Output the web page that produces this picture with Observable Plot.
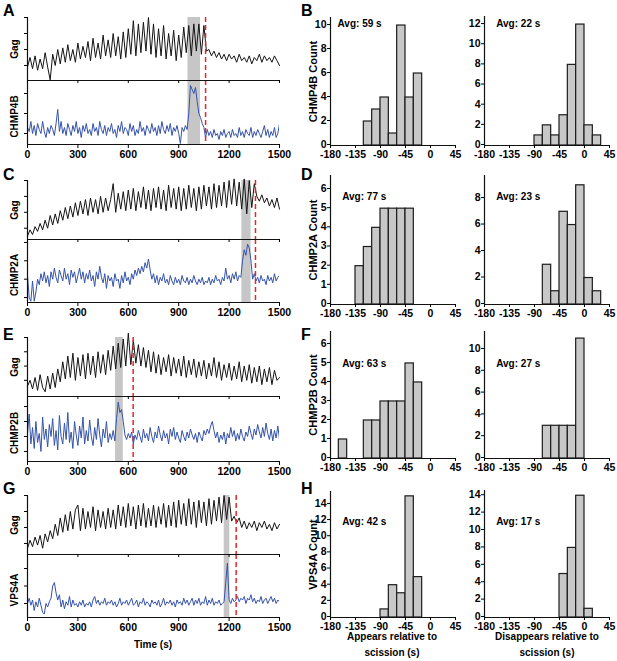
<!DOCTYPE html>
<html><head><meta charset="utf-8">
<script src="https://cdn.jsdelivr.net/npm/d3@7"></script>
<script src="https://cdn.jsdelivr.net/npm/@observablehq/plot@0.6"></script>
<style>
body{margin:0;background:#fff;}
#fig{position:relative;width:617px;height:661px;font-family:"Liberation Sans",Arial,sans-serif;font-weight:bold;color:#000;overflow:hidden;}
#fig svg{position:absolute;background:transparent;overflow:visible;}
.letter{position:absolute;font-size:16px;font-weight:bold;line-height:1;}
.xl{position:absolute;font-size:10px;font-weight:bold;line-height:16px;text-align:center;}
</style></head><body><div id="fig"></div>
<script>
// ---------- data ----------
const gagStep = 15;     // s between Gag samples
const escStep = 10;     // s between ESCRT samples
const proteins = ["CHMP4B","CHMP2A","CHMP2B","VPS4A"];
const panelLetters = ["A","C","E","G"];
const histLetters = ["B","D","F","H"];
const xTicks = [0,300,600,900,1200,1500];
const histXTicks = [-180,-135,-90,-45,0,45];
const binWidth = 15;

const gagA = [0.9,1.5,0.8,1.6,0.7,1.4,0.8,1.8,0.9,0.1,
 1.7,1.0,2.0,1.1,2.1,1.2,2.3,1.3,2.0,1.2,
 2.4,1.4,2.2,1.5,2.5,1.3,2.7,1.5,2.4,1.4,
 2.9,1.6,2.6,1.5,3.0,1.6,2.8,1.4,3.1,1.5,
 3.3,1.7,3.8,1.6,3.6,1.8,3.7,1.9,4.0,1.7,
 3.6,1.5,3.3,1.6,3.5,1.4,3.0,1.6,3.2,1.3,
 2.9,1.5,3.4,1.8,3.5,1.6,3.6,1.9,3.6,1.7,
 3.5,1.9,2.0,1.6,1.9,1.5,1.8,1.4,1.7,1.3,
 1.7,1.4,1.6,1.2,1.7,1.3,1.5,1.2,1.6,1.1,
 1.5,1.3,1.7,1.2,1.6,1.3,1.5,1.2,1.6,1.3,
 1.0];
const gagC = [0.5,0.9,0.6,1.1,0.8,1.3,0.9,1.5,1.0,1.8,
 1.2,1.9,1.3,2.1,1.5,2.3,1.6,2.4,1.7,2.6,
 1.8,2.7,1.9,2.8,1.8,2.9,2.0,2.8,1.9,3.0,
 2.0,2.9,2.1,2.8,3.8,2.0,3.2,2.2,3.3,2.1,
 3.4,2.2,3.5,2.1,3.3,2.3,3.6,2.2,3.4,2.1,
 3.5,2.3,3.6,2.2,3.4,2.1,3.7,2.3,3.5,2.2,
 3.6,2.1,3.5,2.2,3.7,2.3,3.5,2.1,3.6,2.2,
 3.7,2.4,3.6,2.2,3.8,2.3,3.7,2.4,3.9,2.3,
 4.0,2.5,4.1,2.4,3.9,2.2,4.1,1.9,4.0,2.3,
 3.8,3.0,2.7,3.1,2.6,2.9,2.4,2.8,2.3,2.9,
 2.2];
const gagE = [0.6,1.0,0.4,1.2,0.3,1.4,0.5,0.2,1.3,0.4,
 1.5,0.5,1.8,0.9,2.3,1.1,2.7,1.2,2.9,1.0,
 2.6,1.3,2.8,1.1,2.9,1.4,2.7,1.2,3.0,1.5,
 2.8,1.4,3.1,1.7,3.4,1.8,3.6,1.9,3.9,2.0,
 4.3,2.1,3.8,2.2,3.5,2.0,3.3,1.9,3.1,1.6,
 3.0,1.5,2.8,1.4,2.6,1.6,2.8,1.3,2.6,1.5,
 2.5,1.3,2.7,1.2,2.4,1.4,2.5,1.2,2.3,1.3,
 2.4,1.1,2.2,1.3,2.6,1.2,2.3,1.0,2.1,1.2,
 2.2,1.0,2.0,1.1,2.3,0.9,2.0,1.0,2.1,0.8,
 1.9,0.9,2.0,0.7,1.8,0.9,1.9,0.7,1.7,1.0,
 1.2];
const gagG = [0.7,1.2,0.8,1.4,0.9,1.5,0.7,1.6,1.1,1.8,
 1.3,2.2,1.5,2.6,1.7,2.8,1.8,3.0,1.9,3.1,
 3.4,1.8,3.2,1.9,3.0,2.0,3.3,1.8,3.1,2.0,
 3.0,1.9,3.2,2.0,3.1,1.9,3.4,2.1,3.3,2.0,
 3.5,2.1,3.3,1.9,3.4,2.1,3.5,2.0,3.2,2.1,
 3.4,2.0,3.3,2.2,3.5,2.0,3.4,2.1,3.6,2.0,
 3.7,2.2,3.5,2.1,3.8,2.2,3.6,2.0,3.7,2.3,
 3.6,2.1,3.8,2.2,3.7,2.4,3.9,2.3,4.0,2.5,
 3.9,2.4,2.7,2.3,2.6,2.0,2.4,1.9,2.3,2.0,
 2.4,1.8,2.3,2.0,2.4,1.9,2.2,1.8,2.3,1.9,
 2.2];

const chmp4b = [1.3,1.1,1.6,1.0,1.4,0.9,1.5,1.2,1.0,1.6,
 1.1,0.8,1.3,1.0,1.4,1.2,0.9,1.5,2.2,1.1,
 1.6,1.0,1.3,0.9,1.5,1.2,0.9,1.4,1.1,1.6,
 1.0,1.3,0.8,1.4,1.1,1.5,1.0,1.2,0.9,1.5,
 1.1,1.3,0.9,1.6,1.2,1.0,1.4,0.9,1.3,1.1,
 1.5,1.0,1.2,0.8,1.4,1.1,1.6,1.0,1.3,1.2,
 0.9,1.5,1.1,1.4,0.9,1.2,1.0,1.6,1.1,1.3,
 0.9,1.4,1.2,1.0,1.5,1.1,1.3,0.9,1.4,1.0,
 1.6,1.2,1.0,1.4,1.1,1.5,0.9,1.3,1.1,1.4,
 1.0,0.5,1.3,1.1,1.4,1.2,2.0,3.4,3.2,3.0,
 3.3,2.6,2.0,1.8,1.5,1.3,0.8,1.2,0.9,1.1,
 0.8,1.2,0.9,1.0,0.7,1.1,0.9,1.2,0.8,1.0,
 1.1,0.8,1.2,0.9,1.0,0.8,1.3,0.9,1.1,0.8,
 1.2,1.0,0.9,1.3,0.8,1.1,0.9,1.2,1.0,0.8,
 1.1,1.4,0.9,1.2,0.8,1.1,0.9,1.3,0.8,1.0,
 1.5];
const chmp2a = [2.2,1.0,0.8,1.9,0.8,1.3,2.0,1.7,2.3,1.9,
 2.4,1.8,2.2,1.6,2.4,2.0,2.6,2.1,1.8,2.5,
 2.2,1.9,2.6,2.0,2.3,1.7,2.5,2.1,2.4,1.8,
 2.2,2.6,2.0,2.4,1.8,2.3,2.0,2.5,1.9,2.2,
 1.6,2.4,2.0,2.7,2.1,1.8,2.3,1.5,2.2,1.9,
 2.1,1.6,2.3,1.9,2.0,1.5,2.2,1.8,2.4,1.9,
 2.1,1.7,2.3,2.0,2.5,2.2,2.6,2.3,2.7,2.4,
 2.9,2.6,3.1,2.5,2.0,2.3,1.8,2.2,1.7,2.1,
 1.9,2.3,1.8,2.0,1.7,2.2,1.9,1.7,2.1,1.8,
 2.0,1.7,2.2,1.9,1.8,2.1,1.7,2.0,1.8,2.2,
 1.9,1.7,2.0,1.8,2.1,1.7,1.9,1.8,2.1,1.7,
 2.0,1.8,2.2,1.9,2.0,1.7,2.1,1.9,2.6,2.0,
 2.2,1.8,2.3,2.0,2.4,1.9,2.2,2.1,3.0,3.6,
 3.3,3.9,3.7,3.0,2.0,2.3,1.9,2.1,1.8,2.2,
 1.9,2.0,1.7,2.2,1.9,2.1,1.8,2.3,1.9,2.1,
 2.2];
const chmp2b = [2.2,3.5,1.5,2.6,1.2,3.0,1.6,2.2,1.0,3.3,
 1.8,2.5,1.3,2.8,2.0,3.2,1.4,2.4,1.1,3.4,
 2.0,1.5,2.9,1.8,3.6,1.6,2.3,1.2,3.0,2.1,
 1.4,2.7,1.9,3.3,1.5,2.4,1.7,3.1,2.0,1.4,
 2.6,1.8,3.2,2.1,1.3,2.5,1.9,3.0,1.6,2.2,
 1.8,2.4,1.7,3.2,4.3,3.6,3.8,3.0,2.1,1.8,
 2.2,1.9,2.3,1.5,2.1,1.8,2.4,2.0,1.6,2.5,
 1.9,2.2,1.7,2.6,2.0,1.6,2.3,1.9,2.7,2.1,
 1.7,2.4,1.9,2.2,1.5,2.5,2.0,2.6,1.8,2.3,
 1.9,1.6,2.4,2.0,1.7,2.3,1.9,2.5,2.1,1.8,
 2.2,1.6,2.3,2.0,1.7,2.4,2.1,2.5,2.2,2.7,
 3.0,2.4,1.9,2.3,1.6,2.1,1.8,2.3,1.5,2.2,
 1.9,2.6,2.0,2.4,1.7,2.2,1.8,2.5,2.0,1.7,
 2.3,2.0,2.7,2.2,1.8,2.5,2.1,2.8,2.3,1.9,
 2.6,2.0,2.9,2.2,1.8,2.5,1.7,2.4,1.9,2.7,
 1.8];
const vps4a = [1.0,1.3,0.9,1.2,0.6,1.1,0.8,1.3,0.9,0.5,
 0.4,1.0,0.8,1.1,1.3,2.0,2.2,1.6,1.2,1.5,
 0.8,1.2,0.7,1.1,0.9,1.4,0.8,1.2,0.9,1.0,
 0.8,1.1,0.9,1.2,0.8,1.0,0.9,1.1,0.8,1.2,
 1.4,1.0,1.2,0.9,1.1,1.0,1.3,0.9,1.1,1.0,
 1.2,0.9,1.1,0.8,1.0,1.3,0.9,1.1,1.0,1.2,
 0.9,1.1,1.3,0.9,1.0,1.2,0.8,1.1,1.0,1.3,
 0.9,1.1,1.0,0.8,1.2,1.0,1.1,0.9,1.2,0.8,
 1.0,1.3,0.9,1.1,1.0,1.2,0.9,1.1,0.8,1.2,
 1.0,1.1,0.9,1.3,1.0,1.2,0.9,1.1,1.3,0.9,
 1.2,1.0,1.3,0.9,1.1,1.0,1.4,0.9,1.2,1.0,
 1.3,0.9,1.1,1.0,1.2,0.9,1.0,1.1,2.2,3.3,
 1.2,1.0,1.3,1.1,1.2,1.4,1.1,1.3,1.2,1.4,
 1.0,1.3,1.2,1.5,1.1,1.3,1.0,1.2,1.1,1.4,
 1.0,1.2,1.3,1.0,1.2,1.4,1.1,1.3,1.0,1.2,
 1.1];

const recruitBands = [[955,1030],[1276,1331],[524,570],[1171,1204]];
const scissionTimes = [1060,1357,629,1242];

const appearBins = [[-120,-105,-90,-75,-60,-45,-30],[-135,-120,-105,-90,-75,-60,-45],[-165,-120,-105,-90,-75,-60,-45,-30],[-90,-75,-60,-45,-30]];
const appearCounts = [[2,3,4,1,10,4,6],[2,3,4,5,5,5,5],[1,2,2,3,3,3,5,4],[1,4,3,15,5]];
const disappearBins = [[-90,-75,-60,-45,-30,-15,0,15],[-75,-60,-45,-30,-15,0,15],[-75,-60,-45,-30,-15],[-45,-30,-15,0]];
const disappearCounts = [[1,2,1,3,8,12,2,1],[3,1,7,6,9,2,1],[3,3,3,3,11],[5,8,14,1]];
const avgAppear = [59,77,63,42];
const avgDisappear = [22,23,27,17];

// ---------- layout ----------
const fig = document.getElementById("fig");
const FONT = "'Liberation Sans', Arial, sans-serif";
const plain = d => String(d);
const traceLayout = [
  {gagTop:17, sep:80, axis:144, gagLo:0.06, escDom:[0.45,3.65], escTicks:[1,2,3]},
  {gagTop:180, sep:239, axis:302, gagLo:0.29, escDom:[0.73,4.16], escTicks:[1,2,3,4]},
  {gagTop:337, sep:396, axis:461, gagLo:-0.13, escDom:[0.33,4.67], escTicks:[1,2,3,4]},
  {gagTop:495, sep:554, axis:617, gagLo:0.31, escDom:[0.2,3.8], escTicks:[1,2,3]}
];
const histLayout = [
  {L:{top:17,zero:145,ymax:10.67,ticks:[0,2,4,6,8,10],dx:7,dy:6.3}, R:{top:16,zero:145,ymax:12.8,ticks:[0,2,4,6,8,10,12],dx:11.7,dy:7.3}},
  {L:{top:175,zero:304,ymax:6.73,ticks:[0,1,2,3,4,5,6],dx:11.7,dy:21}, R:{top:175,zero:304,ymax:9.74,ticks:[0,2,4,6,8],dx:11.7,dy:21}},
  {L:{top:331,zero:458,ymax:6.68,ticks:[0,1,2,3,4,5,6],dx:11.7,dy:32}, R:{top:331,zero:458,ymax:11.65,ticks:[0,2,4,6,8,10],dx:11.7,dy:32}},
  {L:{top:491,zero:617,ymax:15.6,ticks:[0,2,4,6,8,10,12,14],dx:11.7,dy:30.7}, R:{top:490,zero:617,ymax:14.6,ticks:[0,2,4,6,8,10,12,14],dx:11.7,dy:31.7}}
];

function place(svg, left, top) {
  svg.style.left = left + "px";
  svg.style.top = top + "px";
  fig.appendChild(svg);
}
const baseStyle = {fontFamily: FONT, fontWeight: "bold", background: "transparent", overflow: "visible", color: "#000"};

function sideLabel(txt, dx, dy, size) {
  return Plot.text([txt], {text: d => d, frameAnchor: "left", dx, dy, rotate: -90,
    textAnchor: "middle", lineAnchor: "middle", fontSize: size, fontWeight: "bold"});
}

function tracePlots(r) {
  const L = traceLayout[r];
  const band = recruitBands[r], scis = scissionTimes[r];
  const gag = [gagA, gagC, gagE, gagG][r].map((v, i) => ({t: i * gagStep, v}));
  const esc = [chmp4b, chmp2a, chmp2b, vps4a][r].map((v, i) => ({t: i * escStep, v}));
  const escPlot = Plot.plot({
    width: 300, height: (L.axis - L.sep) + 22,
    marginLeft: 27, marginRight: 21, marginTop: 0, marginBottom: 22,
    style: {...baseStyle, fontSize: "10.5px"},
    x: {domain: [0, 1500]}, y: {domain: L.escDom},
    marks: [
      Plot.rect([band], {x1: d => d[0], x2: d => d[1], fill: "#c6c6c6"}),
      Plot.line(esc, {x: "t", y: "v", stroke: "#3553aa", strokeWidth: 1, clip: true}),
      Plot.ruleX([scis], {stroke: "#e3262d", strokeWidth: 1.5, strokeDasharray: "5,3"}),
      Plot.ruleX([0], {stroke: "#111", strokeWidth: 1.2}),
      Plot.ruleY([L.escDom[0]], {stroke: "#111", strokeWidth: 1.2}),
      Plot.axisY({ticks: L.escTicks, tickFormat: () => "", tickSize: 3, label: null}),
      Plot.axisX({ticks: xTicks, tickFormat: plain, tickSize: 4, tickPadding: 2, label: null}),
      sideLabel(proteins[r], -13, 4, 10)
    ]
  });
  place(escPlot, 0, L.sep);
  const gagPlot = Plot.plot({
    width: 300, height: 3 + (L.sep - L.gagTop) + 5,
    marginLeft: 27, marginRight: 21, marginTop: 3, marginBottom: 5,
    style: {...baseStyle, fontSize: "10.5px"},
    x: {domain: [0, 1500]}, y: {domain: [L.gagLo, 4]},
    marks: [
      Plot.rect([band], {x1: d => d[0], x2: d => d[1], fill: "#c6c6c6"}),
      Plot.line(gag, {x: "t", y: "v", stroke: "#141414", strokeWidth: 1}),
      Plot.ruleX([scis], {stroke: "#e3262d", strokeWidth: 1.5, strokeDasharray: "5,3"}),
      Plot.ruleX([0], {stroke: "#111", strokeWidth: 1.2}),
      Plot.ruleY([L.gagLo], {stroke: "#111", strokeWidth: 1.2}),
      Plot.axisY({ticks: [1, 2, 3, 4], tickFormat: () => "", tickSize: 3, label: null}),
      Plot.axisX({ticks: xTicks, tickFormat: () => "", tickSize: 3, label: null}),
      sideLabel("Gag", -13, 0, 10)
    ]
  });
  place(gagPlot, 0, L.gagTop - 3);
}

function histPlot(r, side) {
  const H = histLayout[r][side];
  const bins = side === "L" ? appearBins[r] : disappearBins[r];
  const counts = side === "L" ? appearCounts[r] : disappearCounts[r];
  const avg = side === "L" ? avgAppear[r] : avgDisappear[r];
  const data = bins.map((b, i) => ({x1: b, x2: b + binWidth, n: counts[i]}));
  const ml = 35, width = side === "L" ? 172 : 168, mr = side === "L" ? 12 : 8;
  const marks = [
    Plot.rectY(data, {x1: "x1", x2: "x2", y: "n", fill: "#c8c8c8", stroke: "#1c1c1c", strokeWidth: 1.2}),
    Plot.ruleX([-180], {stroke: "#111", strokeWidth: 1.2}),
    Plot.ruleY([0], {stroke: "#111", strokeWidth: 1.2}),
    Plot.axisX({ticks: histXTicks, tickFormat: plain, tickSize: 3, tickPadding: 2.5, label: null}),
    Plot.axisY({ticks: H.ticks, tickFormat: plain, tickSize: 3, tickPadding: 1, label: null, dy: -1}),
    Plot.text([`Avg: ${avg} s`], {text: d => d, frameAnchor: "top-left", dx: H.dx, dy: H.dy,
      textAnchor: "start", lineAnchor: "middle", fontSize: 10, fontWeight: "bold"})
  ];
  if (side === "L") marks.push(sideLabel(`${proteins[r]} Count`, -17, 0, 11));
  const p = Plot.plot({
    width, height: 3 + (H.zero - H.top) + 20,
    marginLeft: ml, marginRight: mr, marginTop: 3, marginBottom: 20,
    style: {...baseStyle, fontSize: "10.5px"},
    x: {domain: [-180, 45]}, y: {domain: [0, H.ymax]},
    marks
  });
  place(p, side === "L" ? 295 : 449, H.top - 3);
}

for (let r = 0; r < 4; r++) { tracePlots(r); histPlot(r, "L"); histPlot(r, "R"); }

// panel letters and outer labels
const letterTops = [3, 167, 327, 481];
for (let r = 0; r < 4; r++) {
  for (const [txt, left] of [[panelLetters[r], 3], [histLetters[r], 301]]) {
    const d = document.createElement("div");
    d.className = "letter"; d.textContent = txt;
    d.style.left = left + "px"; d.style.top = letterTops[r] + "px";
    fig.appendChild(d);
  }
}
function xLabel(html, cx, top, w) {
  const d = document.createElement("div");
  d.className = "xl"; d.innerHTML = html;
  d.style.left = (cx - w / 2) + "px"; d.style.top = top + "px"; d.style.width = w + "px";
  fig.appendChild(d);
}
xLabel("Time (s)", 153, 637, 100);
xLabel("Appears relative to<br>scission (s)", 392, 629, 130);
xLabel("Disappears relative to<br>scission (s)", 547, 629, 140);
</script></body></html>
